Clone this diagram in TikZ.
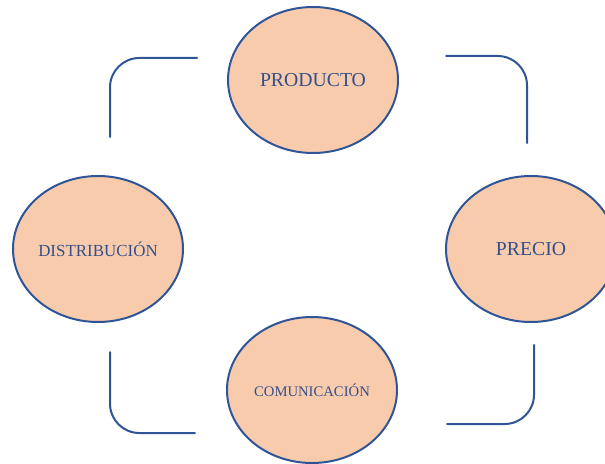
\documentclass[tikz,border=0pt]{standalone}
\usepackage{fontspec}
\setmainfont{Liberation Serif}
\usetikzlibrary{shapes.geometric}
\definecolor{melocoton}{HTML}{F8CBAD}
\definecolor{borde}{HTML}{2F5597}
\definecolor{texto}{HTML}{34508A}

\begin{document}
\begin{tikzpicture}[x=0.75pt,y=-0.75pt,
  fase/.style={ellipse,draw=borde,line width=1.5pt,fill=melocoton,text=texto,
    minimum width=127.5pt,minimum height=109.5pt,inner sep=0pt},
  enlace/.style={draw=borde,line width=1.5pt,line cap=round,rounded corners=22pt}]
\useasboundingbox (0,0) rectangle (605,463);
% Ellipses
\node[fase,font=\fontsize{14.8}{16}\selectfont] (producto) at (313,80) {PRODUCTO};
\node[fase,font=\fontsize{14.8}{16}\selectfont] (precio) at (531,249) {PRECIO};
\node[fase,font=\fontsize{12.7}{14}\selectfont] (distribucion) at (98,249) {DISTRIBUCIÓN};
\node[fase,font=\fontsize{11}{12}\selectfont] (comunicacion) at (312,390) {COMUNICACIÓN};
% Connector ends
\coordinate (izqarriba1) at (110,137);
\coordinate (izqarriba2) at (197,58);
\coordinate (derarriba1) at (446,56);
\coordinate (derarriba2) at (527,143);
\coordinate (derabajo1) at (534,345);
\coordinate (derabajo2) at (447,424);
\coordinate (izqabajo1) at (110,352);
\coordinate (izqabajo2) at (195,433);
% Connectors
\draw[enlace] (izqarriba1) |- (izqarriba2);
\draw[enlace] (derarriba1) -| (derarriba2);
\draw[enlace] (derabajo1) |- (derabajo2);
\draw[enlace] (izqabajo1) |- (izqabajo2);
\end{tikzpicture}
\end{document}
